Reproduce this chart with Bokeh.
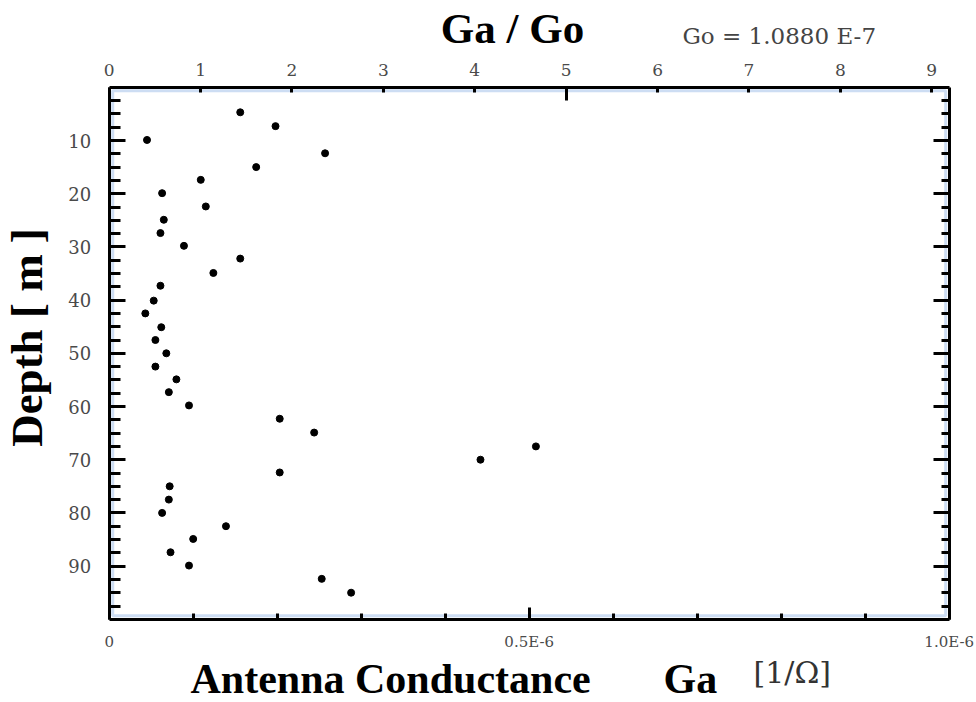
import math
from bokeh.plotting import figure
from bokeh.models import Range1d, LinearAxis, FixedTicker, Label, BoxAnnotation
from bokeh.embed import file_html
from bokeh.resources import INLINE

# ---- data -------------------------------------------------------------
GO = 1.0880e-7  # reference conductance [1/Ohm]

depth_m = [4.7, 7.3, 9.9, 12.4, 15.0, 17.4, 19.9, 22.4, 24.9, 27.4,
           29.8, 32.2, 34.9, 37.3, 40.1, 42.5, 45.1, 47.5, 50.0, 52.5,
           54.9, 57.3, 59.8, 62.3, 64.9, 67.5, 70.0, 72.4, 75.0, 77.5,
           80.0, 82.5, 84.9, 87.4, 89.9, 92.4, 95.0]
# antenna conductance Ga in units of 1E-6 [1/Ohm]
ga_micro = [0.156, 0.198, 0.045, 0.257, 0.175, 0.109, 0.063, 0.115, 0.065, 0.061,
            0.089, 0.156, 0.124, 0.061, 0.053, 0.043, 0.062, 0.055, 0.068, 0.055,
            0.080, 0.071, 0.095, 0.203, 0.244, 0.508, 0.442, 0.203, 0.072, 0.071,
            0.063, 0.139, 0.100, 0.073, 0.095, 0.253, 0.288]

ga_axis_max = 1.0          # bottom axis end, 1.0E-6
depth_axis_max = 100.0
bottom_ticks = [0.0, 0.5, 1.0]
bottom_tick_labels = ["0", "0.5E-6", "1.0E-6"]
bottom_minor = [0.1, 0.2, 0.3, 0.4, 0.6, 0.7, 0.8, 0.9]
top_ticks = [0, 1, 2, 3, 4, 5, 6, 7, 8, 9]
top_long_ticks = [5]
depth_ticks = [10, 20, 30, 40, 50, 60, 70, 80, 90]
depth_minor_step = 2.5

title_top = "Ga / Go"
go_note = "Go = 1.0880 E-7"
title_left = "Depth [ m ]"
title_bottom = "Antenna Conductance"
title_bottom_ga = "Ga"
unit_text = "[1/\u03a9]"

# ---- figure -----------------------------------------------------------
TICK_FONT = "DejaVu Serif"
TITLE_FONT = "Liberation Serif"
W, H = 976, 702
FRAME_L, FRAME_T = 108.7, 86.8        # pixel position of (0, 0)
PX_PER_GA, PX_PER_M = 840.0, 5.32

x0 = -FRAME_L / PX_PER_GA
x1 = (W - FRAME_L) / PX_PER_GA
y0 = -FRAME_T / PX_PER_M
y1 = (H - FRAME_T) / PX_PER_M

p = figure(width=W, height=H,
           x_range=Range1d(x0, x1), y_range=Range1d(y1, y0),
           output_backend="svg", toolbar_location=None,
           x_axis_location=None, y_axis_location=None,
           min_border=0, min_border_left=0, min_border_right=0,
           min_border_top=0, min_border_bottom=0)
p.grid.visible = False
p.outline_line_color = None
p.background_fill_color = "white"
p.border_fill_color = "white"

ratio = GO * 1e6
p.extra_x_ranges = {"ratio": Range1d(x0 / ratio, x1 / ratio)}

depth_minor = [k * depth_minor_step for k in range(1, int(depth_axis_max / depth_minor_step))
               if (k * depth_minor_step) % 10 != 0]


def style(ax, tick_in, minor_in, standoff, size):
    ax.axis_line_color = "black"
    ax.axis_line_width = 3
    ax.major_tick_line_color = "black"
    ax.major_tick_line_width = 3
    ax.minor_tick_line_color = "black"
    ax.minor_tick_line_width = 3
    ax.major_tick_in = tick_in
    ax.major_tick_out = 0
    ax.minor_tick_in = minor_in
    ax.minor_tick_out = 0
    ax.major_label_standoff = standoff
    ax.major_label_text_font = TICK_FONT
    ax.major_label_text_font_size = size
    ax.major_label_text_color = "#4a4a4a"


# inner blue frame line (drawn under the black axis lines)
p.add_layout(BoxAnnotation(left=0.0042, right=ga_axis_max - 0.0042,
                           top=0.66, bottom=depth_axis_max - 0.66,
                           fill_color=None, line_color="#5b8fd6", line_width=3,
                           level="underlay"))

bottom = LinearAxis(ticker=FixedTicker(ticks=bottom_ticks, minor_ticks=bottom_minor),
                    major_label_overrides=dict(zip(bottom_ticks, bottom_tick_labels)),
                    fixed_location=depth_axis_max, bounds=(0, ga_axis_max))
style(bottom, 12, 6, 14, "15px")
p.add_layout(bottom, "below")

top = LinearAxis(x_range_name="ratio",
                 ticker=FixedTicker(ticks=top_ticks, minor_ticks=top_long_ticks),
                 fixed_location=0, bounds=(0, ga_axis_max / ratio))
style(top, 5, 13, 11, "17px")
p.add_layout(top, "above")

left = LinearAxis(ticker=FixedTicker(ticks=depth_ticks, minor_ticks=depth_minor),
                  fixed_location=0, bounds=(0, depth_axis_max))
style(left, 16, 11, 18, "18px")
p.add_layout(left, "left")

right = LinearAxis(ticker=FixedTicker(ticks=depth_ticks, minor_ticks=depth_minor),
                   major_label_overrides={t: "" for t in depth_ticks},
                   fixed_location=ga_axis_max, bounds=(0, depth_axis_max))
style(right, 16, 8, 0, "1px")
p.add_layout(right, "right")

p.scatter(x=ga_micro, y=depth_m, size=7, color="black", marker="circle")

# ---- titles -----------------------------------------------------------
def px_x(px):
    return (px - FRAME_L) / PX_PER_GA


def px_y(py):
    return (py - FRAME_T) / PX_PER_M


p.add_layout(Label(x=px_x(512), y=px_y(28), text=title_top, text_align="center",
                   text_baseline="alphabetic", text_font=TITLE_FONT,
                   text_font_style="bold", text_font_size="43px", text_color="black"))
p.add_layout(Label(x=px_x(682), y=px_y(35), text=go_note, text_align="left",
                   text_baseline="alphabetic", text_font=TICK_FONT,
                   text_font_size="23px", text_color="#444444"))
p.add_layout(Label(x=px_x(26), y=px_y(337), text=title_left, angle=math.pi / 2,
                   text_align="center", text_baseline="alphabetic",
                   text_font=TITLE_FONT, text_font_style="bold",
                   text_font_size="45px", text_color="black"))
p.add_layout(Label(x=px_x(190), y=px_y(678), text=title_bottom, text_align="left",
                   text_baseline="alphabetic", text_font=TITLE_FONT,
                   text_font_style="bold", text_font_size="42px", text_color="black"))
p.add_layout(Label(x=px_x(663), y=px_y(678), text=title_bottom_ga, text_align="left",
                   text_baseline="alphabetic", text_font=TITLE_FONT,
                   text_font_style="bold", text_font_size="42px", text_color="black"))
p.add_layout(Label(x=px_x(753), y=px_y(672), text=unit_text, text_align="left",
                   text_baseline="alphabetic", text_font=TICK_FONT,
                   text_font_size="30px", text_color="#333333"))

open("out.html", "w").write(file_html(p, INLINE))
